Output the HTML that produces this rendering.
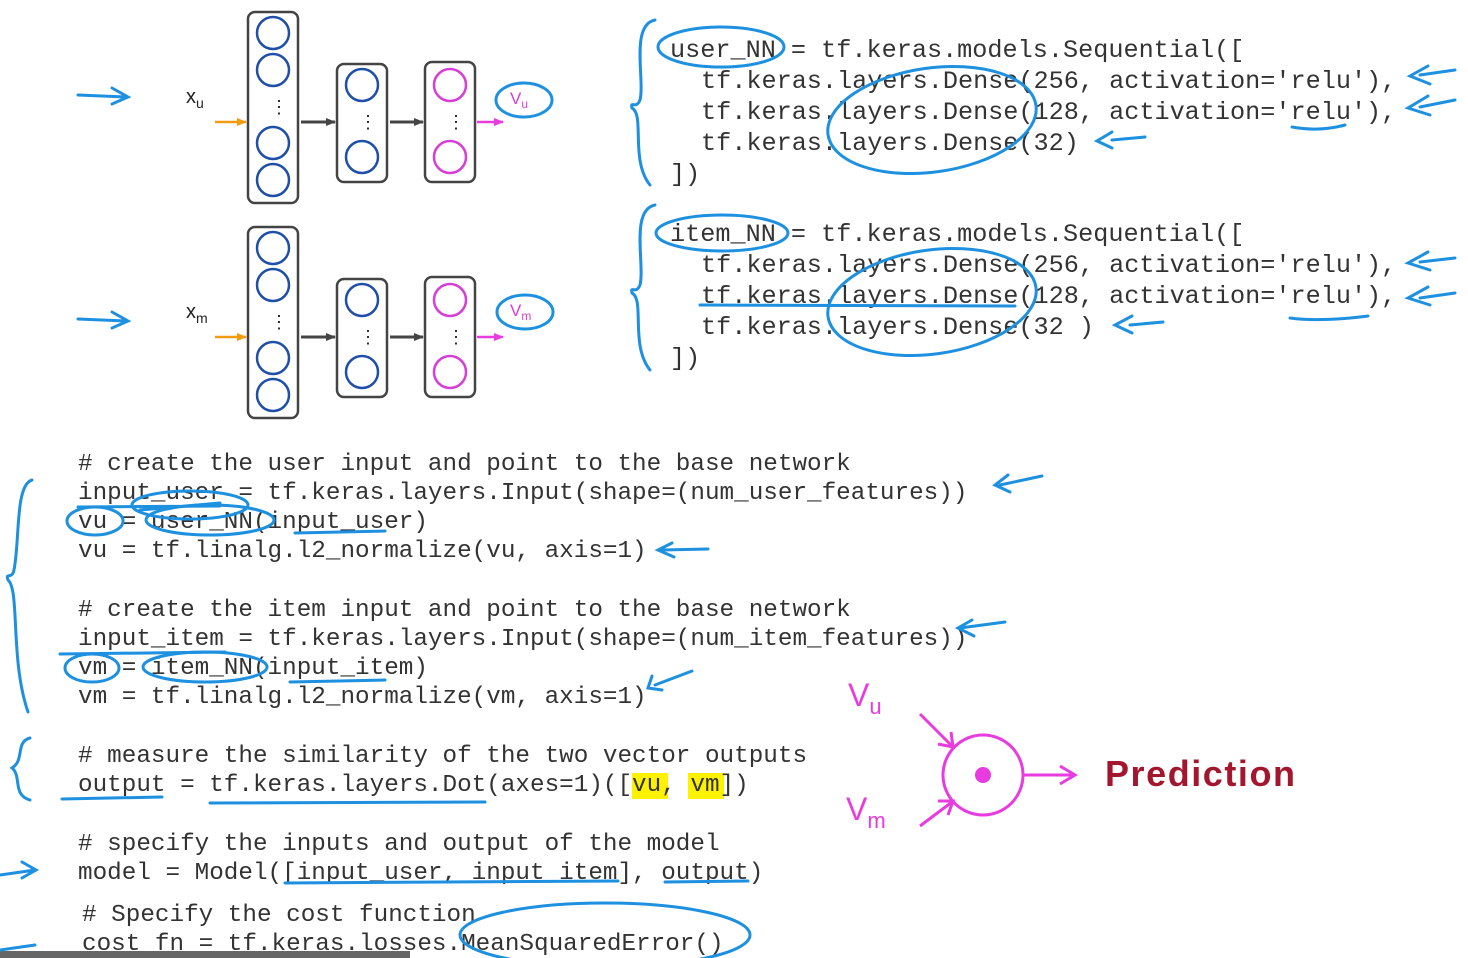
<!DOCTYPE html>
<html><head><meta charset="utf-8"><style>
html,body{margin:0;padding:0;background:#fff;}
svg{display:block;}
.c{font-family:"Liberation Mono",monospace;font-size:24.3px;fill:#333;}
.t{font-family:"Liberation Mono",monospace;font-size:25.2px;fill:#333;}
.b{fill:none;stroke:#1e90e0;stroke-width:3;stroke-linecap:round;}
</style></head><body>
<svg width="1468" height="958" viewBox="0 0 1468 958" xmlns="http://www.w3.org/2000/svg">
<defs>
<marker id="ag" markerUnits="userSpaceOnUse" markerWidth="10" markerHeight="10" refX="9" refY="5" orient="auto"><path d="M0,1 L10,5 L0,9z" fill="#444"/></marker>
<marker id="ao" markerUnits="userSpaceOnUse" markerWidth="10" markerHeight="10" refX="9" refY="5" orient="auto"><path d="M0,1 L10,5 L0,9z" fill="#f39c12"/></marker>
<marker id="am" markerUnits="userSpaceOnUse" markerWidth="10" markerHeight="10" refX="9" refY="5" orient="auto"><path d="M0,1 L10,5 L0,9z" fill="#e83be0"/></marker>
</defs>

<g id="net">
<rect x="248" y="12" width="50" height="191" rx="7" fill="none" stroke="#444" stroke-width="2.5"/>
<g fill="none" stroke="#1f4fa8" stroke-width="2.5">
<circle cx="273" cy="33" r="16"/><circle cx="273" cy="70" r="16"/><circle cx="273" cy="143" r="16"/><circle cx="273" cy="180" r="16"/>
<circle cx="362" cy="85" r="16"/><circle cx="362" cy="157" r="16"/>
</g>
<text x="270" y="113" font-family="Liberation Sans" font-size="18" fill="#222">⋮</text>
<rect x="337" y="64" width="50" height="118" rx="7" fill="none" stroke="#444" stroke-width="2.5"/>
<text x="359" y="128" font-family="Liberation Sans" font-size="18" fill="#222">⋮</text>
<rect x="425" y="62" width="50" height="120" rx="7" fill="none" stroke="#444" stroke-width="2.5"/>
<g fill="none" stroke="#d63fd6" stroke-width="2.5"><circle cx="450" cy="85" r="16"/><circle cx="450" cy="157" r="16"/></g>
<text x="447" y="128" font-family="Liberation Sans" font-size="18" fill="#222">⋮</text>
<line x1="215" y1="122" x2="246" y2="122" stroke="#f39c12" stroke-width="2.5" marker-end="url(#ao)"/>
<line x1="301" y1="122" x2="335" y2="122" stroke="#444" stroke-width="3" marker-end="url(#ag)"/>
<line x1="390" y1="122" x2="423" y2="122" stroke="#444" stroke-width="3" marker-end="url(#ag)"/>
<line x1="477" y1="122" x2="503" y2="122" stroke="#e83be0" stroke-width="2.5" marker-end="url(#am)"/>
</g>
<use href="#net" transform="translate(0,215)"/>
<text x="186" y="103" font-family="Liberation Sans" font-size="20" fill="#222">x<tspan font-size="14" dy="5">u</tspan></text>
<text x="186" y="318" font-family="Liberation Sans" font-size="20" fill="#222">x<tspan font-size="14" dy="5">m</tspan></text>
<ellipse cx="524" cy="100" rx="28" ry="17" class="b" stroke-width="3.5"/>
<text x="510" y="104" font-family="Liberation Sans" font-size="17" fill="#d63fd6">V<tspan font-size="12" dy="4">u</tspan></text>
<ellipse cx="525" cy="312" rx="28" ry="17" class="b" stroke-width="3.5"/>
<text x="510" y="316" font-family="Liberation Sans" font-size="17" fill="#d63fd6">V<tspan font-size="12" dy="4">m</tspan></text>
<path class="b" d="M78,95 L126,97 M112,88 L128,97 L112,104" stroke-width="4"/>
<path class="b" d="M78,319 L126,321 M112,312 L128,321 L112,328" stroke-width="4"/>

<text class="t" x="670" y="57">user_NN = tf.keras.models.Sequential([</text>
<text class="t" x="701" y="88">tf.keras.layers.Dense(256, activation='relu'),</text>
<text class="t" x="701" y="119">tf.keras.layers.Dense(128, activation='relu'),</text>
<text class="t" x="701" y="150">tf.keras.layers.Dense(32)</text>
<text class="t" x="670" y="181">])</text>
<text class="t" x="670" y="241">item_NN = tf.keras.models.Sequential([</text>
<text class="t" x="701" y="272">tf.keras.layers.Dense(256, activation='relu'),</text>
<text class="t" x="701" y="303">tf.keras.layers.Dense(128, activation='relu'),</text>
<text class="t" x="701" y="334">tf.keras.layers.Dense(32 )</text>
<text class="t" x="670" y="365">])</text>
<ellipse cx="721" cy="47" rx="63" ry="20" class="b"/>
<ellipse cx="722" cy="233" rx="66" ry="18" class="b"/>
<ellipse cx="932" cy="120" rx="105" ry="52" class="b" transform="rotate(-8 932 120)"/>
<ellipse cx="932" cy="302" rx="105" ry="52" class="b" transform="rotate(-8 932 302)"/>
<path class="b" d="M655,20 C630,25 645,80 640,100 C636,110 630,100 632,108 C645,115 630,160 650,185"/>
<path class="b" d="M655,205 C630,210 645,265 640,285 C636,295 630,285 632,293 C645,300 630,345 650,370"/>
<path class="b" d="M1292,127 Q1320,132 1345,125 M1290,318 Q1320,322 1368,316 M700,305 L1015,306"/>
<path class="b" d="M1420,75 L1455,70 M1428,66 L1410,76 L1430,84 M1420,107 L1455,100 M1428,96 L1408,108 L1430,115 M1112,140 L1145,137 M1112,132 L1097,141 L1112,148 M1420,262 L1455,258 M1428,252 L1408,263 L1430,270 M1420,298 L1455,293 M1428,287 L1408,298 L1430,305 M1130,325 L1163,322 M1132,316 L1115,325 L1132,333"/>

<text class="c" x="78" y="470"># create the user input and point to the base network</text>
<text class="c" x="78" y="499">input_user = tf.keras.layers.Input(shape=(num_user_features))</text>
<text class="c" x="78" y="528">vu = user_NN(input_user)</text>
<text class="c" x="78" y="557">vu = tf.linalg.l2_normalize(vu, axis=1)</text>
<text class="c" x="78" y="616"># create the item input and point to the base network</text>
<text class="c" x="78" y="645">input_item = tf.keras.layers.Input(shape=(num_item_features))</text>
<text class="c" x="78" y="674">vm = item_NN(input_item)</text>
<text class="c" x="78" y="703">vm = tf.linalg.l2_normalize(vm, axis=1)</text>
<text class="c" x="78" y="762"># measure the similarity of the two vector outputs</text>
<rect x="632" y="773" width="36" height="26" fill="#fff200"/>
<rect x="688" y="773" width="36" height="26" fill="#fff200"/>
<text class="c" x="78" y="791">output = tf.keras.layers.Dot(axes=1)([vu, vm])</text>
<text class="c" x="78" y="850"># specify the inputs and output of the model</text>
<text class="c" x="78" y="879">model = Model([input_user, input_item], output)</text>
<text class="c" x="82" y="921"># Specify the cost function</text>
<text class="c" x="82" y="950">cost_fn = tf.keras.losses.MeanSquaredError()</text>
<rect x="0" y="951" width="410" height="7" fill="#666"/>

<g class="b">
<path d="M78,507 L220,506 M140,510 L220,503"/>
<ellipse cx="190" cy="505" rx="58" ry="14"/>
<ellipse cx="95" cy="521" rx="28" ry="14"/>
<ellipse cx="210" cy="520" rx="64" ry="15"/>
<path d="M295,533 L385,531"/>
<path d="M662,550 L708,549 M672,543 L658,550 L674,557"/>
<path d="M1000,485 L1042,476 M1008,475 L995,485 L1010,492"/>
<path d="M60,654 L225,652"/>
<ellipse cx="92" cy="668" rx="27" ry="14"/>
<ellipse cx="205" cy="667" rx="62" ry="15"/>
<path d="M290,682 L385,680"/>
<path d="M655,685 L692,671 M652,676 L648,688 L662,690"/>
<path d="M960,628 L1005,622 M972,620 L958,628 L974,636"/>
<path d="M62,799 L162,797 M210,803 L485,802 M285,883 L618,881 M665,882 L748,881"/>
<ellipse cx="605" cy="935" rx="145" ry="32"/>
<path d="M0,875 L35,870 M22,862 L36,870 L22,878 M0,950 L35,945"/>
<path d="M32,480 C15,485 20,540 14,570 C12,580 5,572 8,580 C20,590 10,660 28,712"/>
<path d="M30,738 C15,742 25,760 12,768 C22,776 12,795 30,800"/>
</g>

<text x="848" y="706" font-family="Liberation Sans" font-size="32" fill="#e83be0">V<tspan font-size="22" dy="8">u</tspan></text>
<text x="846" y="820" font-family="Liberation Sans" font-size="32" fill="#e83be0">V<tspan font-size="22" dy="8">m</tspan></text>
<circle cx="983" cy="775" r="40" fill="none" stroke="#e83be0" stroke-width="3"/>
<circle cx="983" cy="775" r="8" fill="#e83be0"/>
<path d="M920,714 L952,746 M938,744 L953,747 L951,732" fill="none" stroke="#e83be0" stroke-width="3"/>
<path d="M920,826 L952,802 M938,801 L953,801 L948,815" fill="none" stroke="#e83be0" stroke-width="3"/>
<path d="M1023,775 L1074,775 M1060,766 L1075,775 L1060,784" fill="none" stroke="#e83be0" stroke-width="3"/>
<text x="1105" y="786" font-family="Liberation Sans" font-size="36" font-weight="bold" fill="#a3162e" textLength="190">Prediction</text>
</svg>
</body></html>
